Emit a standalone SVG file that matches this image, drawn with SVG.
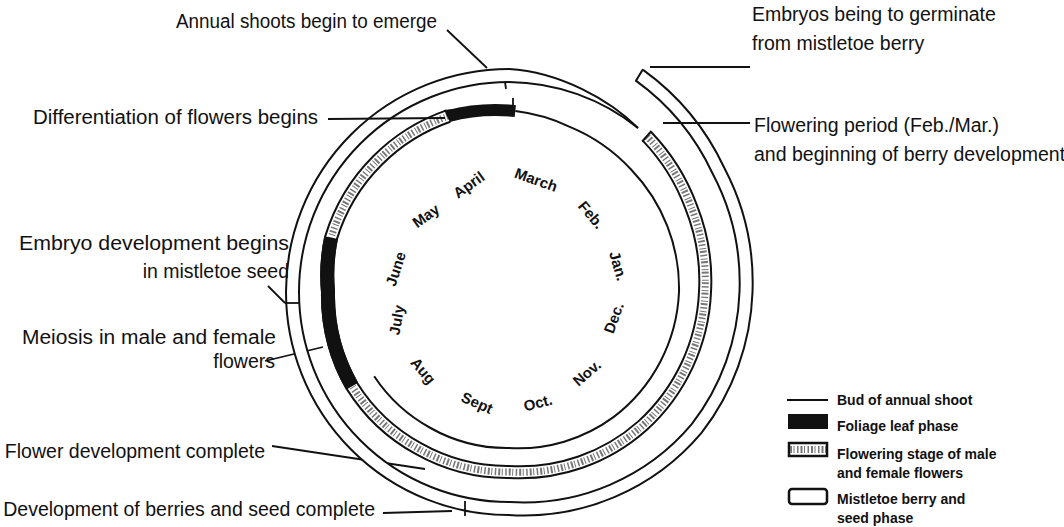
<svg xmlns="http://www.w3.org/2000/svg" width="1064" height="527" viewBox="0 0 1064 527">
<style>
.lbl{font-family:"Liberation Sans",Arial,sans-serif;font-size:19.5px;fill:#111}
.end{text-anchor:end}
.leg{font-family:"Liberation Sans",Arial,sans-serif;font-size:14px;font-weight:bold;fill:#111}
.mon{font-family:"Liberation Sans",Arial,sans-serif;font-size:15px;font-weight:bold;fill:#111;text-anchor:middle}
.ln{stroke:#111;stroke-width:1.8;fill:none}
.bandO{stroke:#111;stroke-width:15;fill:none}
.bandI{stroke:#fff;stroke-width:11;fill:none}
.hatO{stroke:#111;stroke-width:14;fill:none}
.hatI{stroke:#fff;stroke-width:10;fill:none}
.hatT{stroke:#777;stroke-width:7;stroke-dasharray:2 1.5 1 2.5 1.5 2;fill:none}
</style>
<defs>
<path id="ob" d="M 509 75.5 A 216.5 216.5 0 0 0 292.5 292 A 216.5 216.5 0 0 0 509 508.5 A 226 226 0 0 0 696.7 428.4 A 236 236 0 0 0 746 292 A 240 240 0 0 0 718.6 171 A 246 246 0 0 0 639.3 75.1"/>
<path id="ib" d="M 448.4 116.1 A 186 186 0 0 0 377.5 160.5 A 186 186 0 0 0 331.1 237.6 A 184 184 0 0 0 328 292 A 182 182 0 0 0 352.1 386.2 A 181 181 0 0 0 418.5 448.7 A 180 180 0 0 0 509 472 A 184 184 0 0 0 642.6 425.6 A 192 192 0 0 0 705 292 A 198 198 0 0 0 691.2 207.1 A 204 204 0 0 0 646.8 136.2"/>
</defs>
<g id="connectors">
<line class="ln" x1="447" y1="30" x2="487" y2="68"/>
<line class="ln" x1="650" y1="67" x2="750" y2="67"/>
<line class="ln" x1="268" y1="286" x2="285" y2="303"/>
<line class="ln" x1="265" y1="361" x2="323" y2="347"/>
<line class="ln" x1="272" y1="446" x2="425" y2="469"/>
<line class="ln" x1="383" y1="513" x2="452" y2="511"/>
</g>
<g id="cycle">
<path d="M 374.2 376.3 A 158 158 0 0 0 430.5 428 A 156 156 0 0 0 509 448 A 160 160 0 0 0 613.8 416.9 A 166 166 0 0 0 679 292 A 171 171 0 0 0 631.3 169.7 A 174 174 0 0 0 569.2 126.6 A 178 178 0 0 0 515.3 111.1" stroke="#111" stroke-width="2" fill="none"/>
<use href="#ib" class="hatO"/>
<use href="#ib" class="hatI"/>
<use href="#ib" class="hatT"/>
<path d="M 331.1 237.6 A 184 184 0 0 0 328 292 A 182 182 0 0 0 352.1 386.2" stroke="#111" stroke-width="14" fill="none"/>
<path d="M 515.3 111.1 A 184 184 0 0 0 448.4 116.1" stroke="#111" stroke-width="12" fill="none"/>
<polygon points="444,110 454,109 450,122" fill="#111"/>
<line class="ln" x1="513" y1="98" x2="513" y2="106"/>
<line x1="642.2" y1="141.5" x2="651.5" y2="131" stroke="#111" stroke-width="2"/>
<use href="#ob" class="bandO"/>
<use href="#ob" class="bandI"/>
<path d="M 638 128 A 209.5 209.5 0 0 0 509 82" stroke="#111" stroke-width="2" fill="none"/>
<path d="M 638 128 C 610 100, 560 72, 509 69" stroke="#111" stroke-width="2" fill="none"/>
<line x1="635.7" y1="81.2" x2="642.9" y2="69.2" stroke="#111" stroke-width="2"/>
<line class="ln" x1="505" y1="82" x2="506" y2="89"/>
<line class="ln" x1="285" y1="303" x2="299" y2="303"/>
<line class="ln" x1="465" y1="501" x2="465" y2="516"/>
<line class="ln" x1="663" y1="123" x2="750" y2="123"/>
<line class="ln" x1="328" y1="119" x2="445" y2="118"/>
</g>
<g id="months">
<text class="mon" transform="translate(469,185) rotate(-36)" y="5">April</text>
<text class="mon" transform="translate(536,180) rotate(20)" y="5">March</text>
<text class="mon" transform="translate(591,215) rotate(50)" y="5">Feb.</text>
<text class="mon" transform="translate(618,266) rotate(74)" y="5">Jan.</text>
<text class="mon" transform="translate(614,318) rotate(-70)" y="5">Dec.</text>
<text class="mon" transform="translate(587,373) rotate(-41)" y="5">Nov.</text>
<text class="mon" transform="translate(538,403) rotate(-15)" y="5">Oct.</text>
<text class="mon" transform="translate(477,403) rotate(24)" y="5">Sept</text>
<text class="mon" transform="translate(423,371) rotate(50)" y="5">Aug</text>
<text class="mon" transform="translate(397,320) rotate(-80)" y="5">July</text>
<text class="mon" transform="translate(396,269) rotate(-72)" y="5">June</text>
<text class="mon" transform="translate(426,216) rotate(-36)" y="5">May</text>
</g>
<g id="labels">
<text class="lbl" x="176" y="28" textLength="261" lengthAdjust="spacingAndGlyphs">Annual shoots begin to emerge</text>
<text class="lbl" x="752" y="21">Embryos being to germinate</text>
<text class="lbl" x="752" y="50">from mistletoe berry</text>
<text class="lbl" x="754" y="132">Flowering period (Feb./Mar.)</text>
<text class="lbl" x="754" y="161">and beginning of berry development</text>
<text class="lbl" x="33" y="124" textLength="285" lengthAdjust="spacingAndGlyphs">Differentiation of flowers begins</text>
<text class="lbl" x="19" y="250" textLength="270" lengthAdjust="spacingAndGlyphs">Embryo development begins</text>
<text class="lbl end" x="289" y="278">in mistletoe seed</text>
<text class="lbl" x="22" y="344" textLength="254" lengthAdjust="spacingAndGlyphs">Meiosis in male and female</text>
<text class="lbl end" x="275" y="368">flowers</text>
<text class="lbl end" x="265" y="458">Flower development complete</text>
<text class="lbl end" x="375" y="516">Development of berries and seed complete</text>
</g>
<g id="legend">
<line x1="787" y1="400" x2="828" y2="400" stroke="#111" stroke-width="2"/>
<rect x="788" y="414" width="40" height="15" fill="#111"/>
<rect x="789" y="443" width="38" height="13" fill="#fff" stroke="#111" stroke-width="2.5"/>
<line x1="790" y1="449.5" x2="826" y2="449.5" stroke="#777" stroke-width="7" stroke-dasharray="2 1.5 1 2.5 1.5 2"/>
<rect x="789" y="489" width="38" height="15" rx="3" fill="#fff" stroke="#111" stroke-width="2.5"/>
<text class="leg" x="837" y="405">Bud of annual shoot</text>
<text class="leg" x="837" y="431">Foliage leaf phase</text>
<text class="leg" x="837" y="459">Flowering stage of male</text>
<text class="leg" x="837" y="478">and female flowers</text>
<text class="leg" x="837" y="504">Mistletoe berry and</text>
<text class="leg" x="837" y="523">seed phase</text>
</g>
</svg>
